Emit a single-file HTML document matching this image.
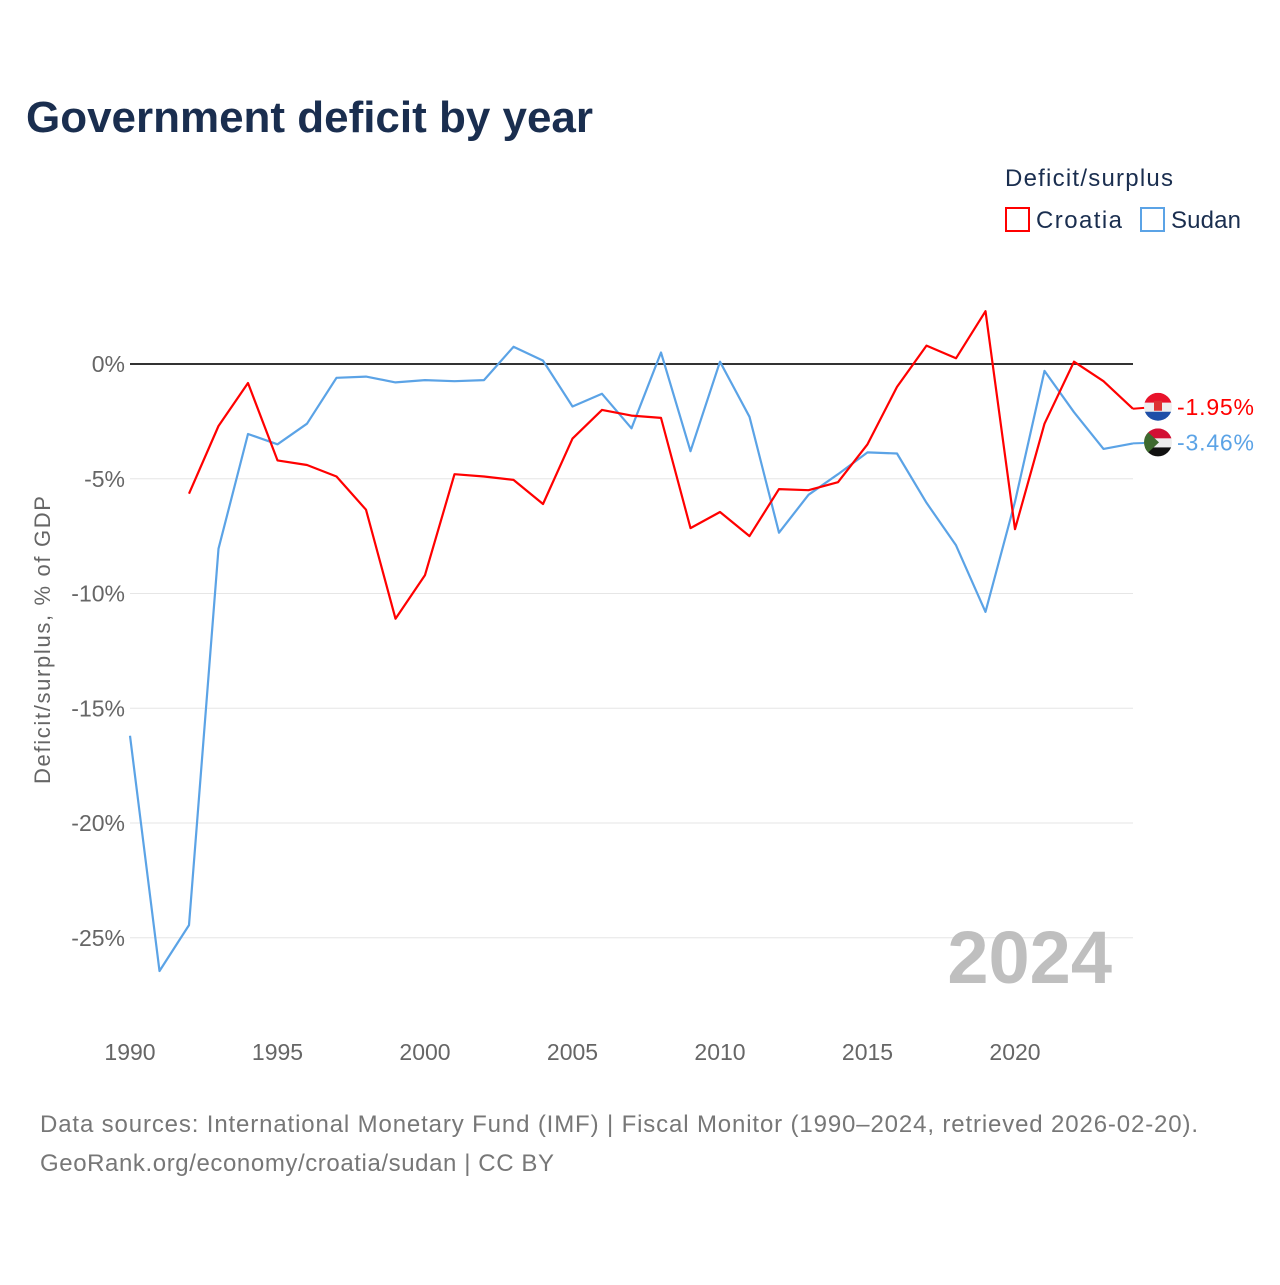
<!DOCTYPE html>
<html><head><meta charset="utf-8"><style>
body{margin:0;background:#fff;font-family:"Liberation Sans",sans-serif}
</style></head><body>
<svg width="1280" height="1280" viewBox="0 0 1280 1280" xmlns="http://www.w3.org/2000/svg">
<text x="26" y="132" font-size="44" font-weight="bold" fill="#1a2e4f" textLength="567">Government deficit by year</text>
<text x="1005" y="186" font-size="24" fill="#1a2e4f" textLength="168">Deficit/surplus</text>
<g><rect x="1006" y="208" width="23" height="23" fill="none" stroke="#ff0000" stroke-width="2"/><text x="1036" y="228" font-size="24" fill="#1a2e4f" textLength="86">Croatia</text></g>
<g><rect x="1141" y="208" width="23" height="23" fill="none" stroke="#5ba3e6" stroke-width="2"/><text x="1171" y="228" font-size="24" fill="#1a2e4f" textLength="70">Sudan</text></g>
<g id="grid"></g><g id="plot"></g>
<text transform="translate(50,640) rotate(-90)" text-anchor="middle" font-size="22" fill="#666" textLength="288">Deficit/surplus, % of GDP</text>
<text x="1112" y="983" text-anchor="end" font-size="74" font-weight="bold" fill="#bfbfbf">2024</text>
<text x="40" y="1132" font-size="24" fill="#777" textLength="1158">Data sources: International Monetary Fund (IMF) | Fiscal Monitor (1990–2024, retrieved 2026-02-20).</text>
<text x="40" y="1171" font-size="24" fill="#777" textLength="514">GeoRank.org/economy/croatia/sudan | CC BY</text>
</svg>
<script>
const years=[];for(let y=1990;y<=2024;y++)years.push(y);
const croatia=[null,null,-5.65,-2.7,-0.83,-4.2,-4.4,-4.9,-6.35,-11.1,-9.2,-4.8,-4.9,-5.05,-6.1,-3.25,-2.0,-2.25,-2.35,-7.15,-6.45,-7.5,-5.45,-5.5,-5.15,-3.5,-1.0,0.8,0.25,2.3,-7.2,-2.6,0.1,-0.75,-1.95];
const sudan=[-16.2,-26.45,-24.45,-8.05,-3.05,-3.5,-2.6,-0.6,-0.55,-0.8,-0.7,-0.75,-0.7,0.75,0.15,-1.85,-1.3,-2.8,0.5,-3.8,0.1,-2.3,-7.35,-5.7,-4.8,-3.85,-3.9,-6.05,-7.9,-10.8,-6.0,-0.3,-2.1,-3.7,-3.46];
const yTicks=[0,-5,-10,-15,-20,-25];
const xTicks=[1990,1995,2000,2005,2010,2015,2020];
const NS="http://www.w3.org/2000/svg";
const X=y=>130+(y-1990)*(1003/34);
const Y=v=>364-v*22.95;
const grid=document.getElementById('grid'),plot=document.getElementById('plot');
function mk(tag,attrs,parent){const e=document.createElementNS(NS,tag);for(const k in attrs)e.setAttribute(k,attrs[k]);parent.appendChild(e);return e;}
yTicks.forEach(t=>{
 const l=mk('line',{x1:130,x2:1133,y1:Y(t),y2:Y(t),stroke:t===0?'#333':'#e6e6e6','stroke-width':t===0?2:1},grid);
 
 
 const tx=mk('text',{x:125,y:Y(t)+8,'text-anchor':'end','font-size':23,fill:'#666'},grid);
 tx.textContent=t+'%';
 
 
});
xTicks.forEach(t=>{
 const tx=mk('text',{x:X(t),y:1060,'text-anchor':'middle','font-size':23,fill:'#666'},grid);
 tx.textContent=t;
 
 
});
function line(data,color,name){
 let d='';data.forEach((v,i)=>{if(v===null)return;d+=(d?'L':'M')+X(years[i]).toFixed(1)+','+Y(v).toFixed(1);});
 const p=mk('path',{d:d,fill:'none',stroke:color,'stroke-width':2.2,'stroke-linejoin':'round'},plot);
 
 
}
line(sudan,'#5ba3e6','sudan-line');
line(croatia,'#ff0000','croatia-line');
function endLabel(v,color,name,flag){
 const cy=Y(v)+(flag==='hr'?-2:-1);
 const g=mk('g',{},plot);
 
 
 const cx=1158;
 mk('line',{x1:1133,x2:cx,y1:Y(v),y2:cy,stroke:color,'stroke-width':2},g);
 const cp=mk('clipPath',{id:'c'+flag},g);mk('circle',{cx:cx,cy:cy,r:14},cp);
 const f=mk('g',{'clip-path':'url(#c'+flag+')'},g);
 if(flag==='hr'){
  mk('rect',{x:cx-14,y:cy-14,width:28,height:10,fill:'#e8132b'},f);
  mk('rect',{x:cx-14,y:cy-4,width:28,height:9,fill:'#eee'},f);
  mk('rect',{x:cx-14,y:cy+5,width:28,height:10,fill:'#1f4fa8'},f);
  mk('rect',{x:cx-4,y:cy-6,width:8,height:10,fill:'#d33'},f);
 }else{
  mk('rect',{x:cx-14,y:cy-14,width:28,height:10,fill:'#d21034'},f);
  mk('rect',{x:cx-14,y:cy-4,width:28,height:9,fill:'#eee'},f);
  mk('rect',{x:cx-14,y:cy+5,width:28,height:10,fill:'#111'},f);
  mk('polygon',{points:`${cx-14},${cy-14} ${cx+1},${cy} ${cx-14},${cy+14}`,fill:'#3e6a2f'},f);
 }
 const t=mk('text',{x:1177,y:cy+8,'font-size':23,fill:color,textLength:77},g);
 t.textContent=v.toFixed(2)+'%';
}
endLabel(croatia[croatia.length-1],'#ff0000','croatia-end-label','hr');
endLabel(sudan[sudan.length-1],'#5ba3e6','sudan-end-label','sd');
</script>
</body></html>
